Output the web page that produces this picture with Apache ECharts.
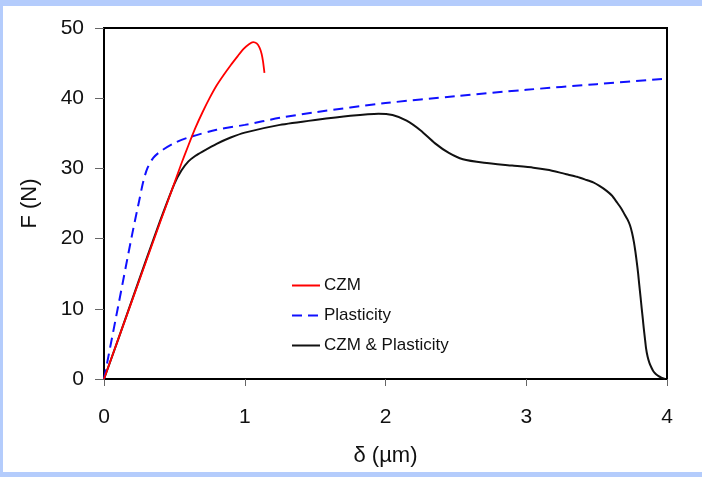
<!DOCTYPE html>
<html>
<head>
<meta charset="utf-8">
<script src="https://cdn.jsdelivr.net/npm/echarts@6/dist/echarts.min.js"></script>
<style>
html,body{margin:0;padding:0;width:702px;height:477px;background:#b4ccfc;overflow:hidden;}
#main{position:absolute;left:3px;top:6px;width:699px;height:466px;background:#ffffff;}
</style>
</head>
<body>
<div id="main"></div>
<script>
const seriesNames = ['CZM', 'Plasticity', 'CZM & Plasticity'];
const xTicks = [0, 1, 2, 3, 4];
const yTicks = [0, 10, 20, 30, 40, 50];

const czm = [
  [0,0],[0.2,11.2],[0.4,22.4],[0.5,27.9],[0.55,30.7],[0.6,33.3],[0.65,35.8],
  [0.7,38.0],[0.75,40.0],[0.8,41.8],[0.85,43.3],[0.9,44.7],[0.95,46.0],
  [0.99,47.0],[1.03,47.7],[1.06,48.0],[1.085,47.8],[1.105,47.2],[1.12,46.3],
  [1.13,45.2],[1.14,43.6]
];
const plasticity = [
  [0,0],[0.1,10.3],[0.2,20.6],[0.25,25.4],[0.28,28.2],[0.31,30.1],[0.35,31.5],
  [0.4,32.4],[0.5,33.6],[0.6,34.4],[0.8,35.5],[1.0,36.2],[1.25,37.2],[1.5,38.0],
  [2.0,39.3],[2.5,40.3],[3.0,41.2],[3.5,42.0],[4.0,42.8]
];
const combined = [
  [0,0],[0.1,5.6],[0.2,11.3],[0.3,17.0],[0.4,22.6],[0.5,27.8],[0.55,29.7],
  [0.6,31.0],[0.65,31.8],[0.7,32.4],[0.8,33.5],[0.9,34.4],[1.0,35.1],[1.25,36.2],[1.5,36.9],
  [1.75,37.5],[1.95,37.8],[2.05,37.6],[2.15,36.8],[2.25,35.4],[2.35,33.6],
  [2.45,32.2],[2.55,31.3],[2.7,30.8],[2.9,30.4],[3.05,30.1],[3.15,29.8],[3.24,29.4],
  [3.3,29.1],[3.36,28.8],[3.42,28.4],[3.476,28.0],[3.52,27.5],[3.571,26.8],
  [3.61,26.1],[3.643,25.2],[3.675,24.3],[3.7,23.4],[3.72,22.7],[3.737,21.9],
  [3.752,20.8],[3.765,19.5],[3.775,18.2],[3.785,16.7],[3.795,15.0],[3.803,13.4],
  [3.812,11.7],[3.82,10.1],[3.828,8.6],[3.835,7.2],[3.843,5.8],[3.851,4.4],
  [3.862,3.2],[3.875,2.3],[3.89,1.6],[3.903,1.1],[3.92,0.7],[3.94,0.4],[3.96,0.2],[3.986,0]
];

const font = 'Liberation Sans, Arial, sans-serif';
const chart = echarts.init(document.getElementById('main'), null, {renderer: 'canvas'});
chart.setOption({
  animation: false,
  backgroundColor: '#ffffff',
  grid: {left: 101, right: 35, top: 22, bottom: 90, show: true, borderColor: '#000', borderWidth: 2, backgroundColor: '#fff'},
  xAxis: {
    type: 'value', min: xTicks[0], max: xTicks[xTicks.length-1], interval: 1,
    name: 'δ (µm)', nameLocation: 'middle', nameGap: 66,
    nameTextStyle: {fontFamily: font, fontSize: 22, color: '#111'},
    axisLine: {show: true, lineStyle: {color: '#000', width: 2}},
    axisTick: {show: true, inside: false, length: 7, lineStyle: {color: '#666', width: 1}},
    axisLabel: {margin: 28, fontFamily: font, fontSize: 21, color: '#111'},
    splitLine: {show: false}
  },
  yAxis: {
    type: 'value', min: yTicks[0], max: yTicks[yTicks.length-1], interval: 10,
    name: 'F (N)', nameLocation: 'middle', nameGap: 63,
    nameTextStyle: {fontFamily: font, fontSize: 22, color: '#111'},
    axisLine: {show: true, lineStyle: {color: '#000', width: 2}},
    axisTick: {show: true, inside: false, length: 9, lineStyle: {color: '#666', width: 1}},
    axisLabel: {margin: 20, fontFamily: font, fontSize: 21, color: '#111'},
    splitLine: {show: false}
  },
  legend: {
    orient: 'vertical', left: 283, top: 266,
    itemWidth: 28, itemHeight: 14, itemGap: 13,
    itemStyle: {opacity: 0},
    textStyle: {fontFamily: font, fontSize: 17, color: '#111', padding: [0,0,0,-1]},
    data: seriesNames
  },
  series: [
    {name: seriesNames[0], type: 'line', data: czm, symbol: 'none', smooth: 0.2,
     lineStyle: {color: '#ff0000', width: 1.8}, itemStyle: {color: '#ff0000'}, z: 3},
    {name: seriesNames[1], type: 'line', data: plasticity, symbol: 'none', smooth: 0.3,
     lineStyle: {color: '#1010ff', width: 2, type: [10, 6]}, itemStyle: {color: '#1010ff'}, z: 2},
    {name: seriesNames[2], type: 'line', data: combined, symbol: 'none', smooth: 0.2,
     lineStyle: {color: '#111', width: 2}, itemStyle: {color: '#111'}, z: 1}
  ]
});
</script>
</body>
</html>
